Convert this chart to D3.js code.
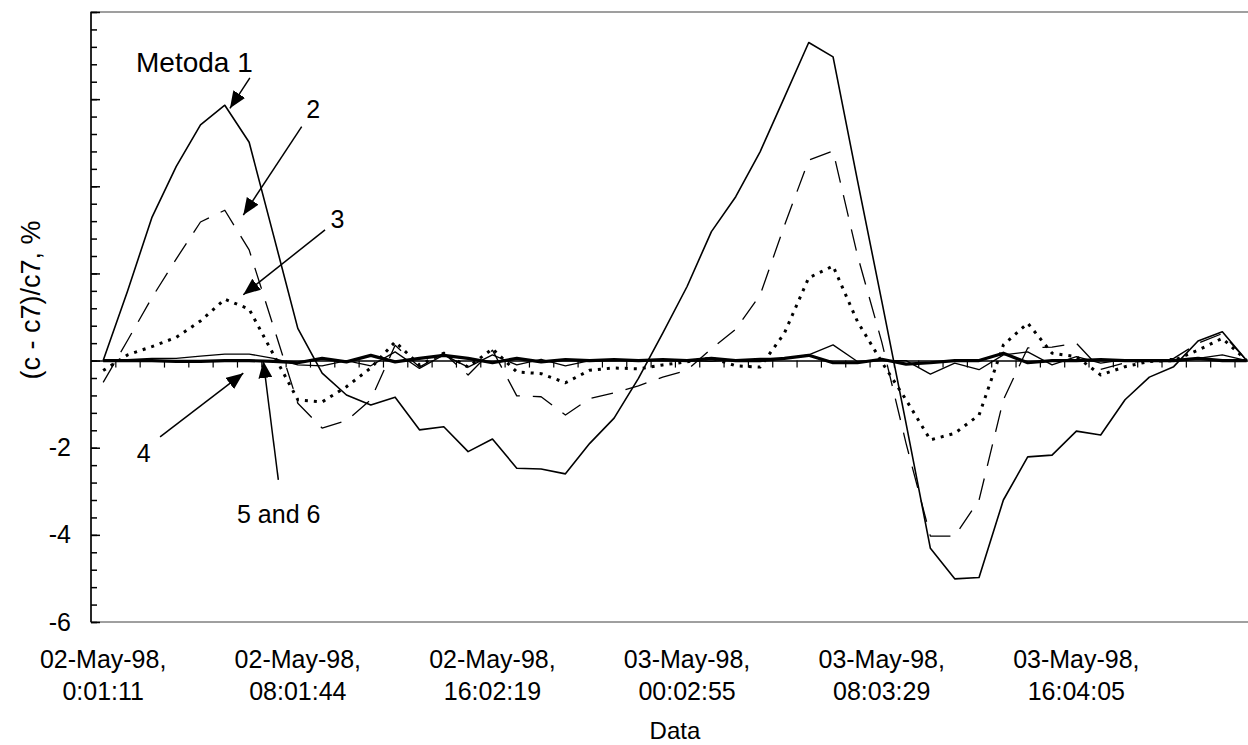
<!DOCTYPE html>
<html>
<head>
<meta charset="utf-8">
<script src="https://cdn.jsdelivr.net/npm/d3@7/dist/d3.min.js"></script>
<style>
  body { margin: 0; background: #fff; }
  text { font-family: "Liberation Sans", Arial, sans-serif; fill: #000; }
</style>
</head>
<body>
<svg id="chart"></svg>
<script>
// hourly samples, 02-May-98 0:01 .. 03-May-98 23:04
var metoda1 = [0, 1.59, 3.28, 4.45, 5.41, 5.86, 5.01, 2.88, 0.74, -0.29, -0.79, -1.02, -0.84, -1.59, -1.52, -2.09,
  -1.80, -2.47, -2.49, -2.60, -1.90, -1.32, -0.41, 0.63, 1.70, 2.96, 3.76, 4.79, 6.04, 7.30, 6.97, 4.14,
  1.37, -1.44, -4.31, -5.01, -4.98, -3.20, -2.21, -2.17, -1.62, -1.71, -0.90, -0.38, -0.14, 0.45, 0.66, 0];
var metoda2 = [-0.50, 0.46, 1.44, 2.33, 3.18, 3.45, 2.54, 0.78, -0.98, -1.55, -1.38, -0.90, 0.35, -0.15, 0.17, -0.33,
  0.24, -0.81, -0.83, -1.25, -0.87, -0.74, -0.58, -0.38, -0.22, 0.27, 0.72, 1.50, 3.10, 4.60, 4.81, 2.42,
  0.43, -1.90, -4.03, -4.03, -3.20, -0.90, 0.29, 0.31, 0.40, -0.20, -0.05, 0.00, 0.05, 0.40, 0.62, 0];
var metoda3 = [-0.23, 0.13, 0.32, 0.53, 0.91, 1.41, 1.18, 0.14, -0.90, -0.95, -0.60, -0.17, 0.43, -0.10, 0.17, -0.15,
  0.27, -0.26, -0.30, -0.51, -0.22, -0.17, -0.19, -0.10, -0.03, 0.06, -0.12, -0.15, 0.63, 1.90, 2.17, 0.90,
  -0.03, -0.90, -1.82, -1.67, -1.25, 0.36, 0.86, 0.17, 0.09, -0.33, -0.14, -0.02, 0.00, 0.24, 0.51, 0];
var metoda4 = [0, 0.02, 0.05, 0.05, 0.10, 0.15, 0.15, 0.05, -0.10, -0.12, 0.00, -0.12, 0.20, -0.18, 0.13, -0.15,
  0.13, -0.10, 0.03, -0.12, 0.00, 0.00, 0.02, 0.00, 0.00, -0.02, 0.02, 0.05, 0.05, 0.13, 0.36, -0.02,
  0.00, 0.00, -0.31, -0.06, -0.21, 0.13, 0.20, -0.10, 0.09, -0.06, 0.02, 0, 0, 0.05, 0.13, 0];
var metoda56 = [0, 0, 0, -0.02, -0.02, 0, 0, -0.02, -0.05, 0.05, -0.03, 0.12, -0.03, 0.05, 0.12, 0.05,
  -0.05, 0.05, -0.03, 0.02, 0, 0.02, 0, 0.02, 0, 0.05, 0, 0, 0.05, 0.12, -0.05, -0.05,
  0.03, -0.08, -0.05, 0, 0, 0.17, -0.05, 0, 0, 0.02, 0, 0, 0, 0.05, 0, 0];

var tickIndex = [0, 8, 16, 24, 32, 40];
var tickLabels = [
  ["02-May-98,", "0:01:11"], ["02-May-98,", "08:01:44"], ["02-May-98,", "16:02:19"],
  ["03-May-98,", "00:02:55"], ["03-May-98,", "08:03:29"], ["03-May-98,", "16:04:05"]
];
var yLabels = [-6, -4, -2];

// annotation text + arrow, in (category index, value) units
var notes = [
  { label: "Metoda 1", tx: 1.35, ty: 6.62, size: 28, from: [6.03, 6.49], to: [5.21, 5.79] },
  { label: "2", tx: 8.35, ty: 5.56, size: 25, from: [8.16, 5.37], to: [5.76, 3.34] },
  { label: "3", tx: 9.34, ty: 3.04, size: 25, from: [9.12, 3.00], to: [5.76, 1.51] },
  { label: "4", tx: 1.38, ty: -2.32, size: 25, from: [2.34, -1.75], to: [5.76, -0.29] },
  { label: "5 and 6", tx: 5.5, ty: -3.73, size: 25, from: [7.2, -2.74], to: [6.58, -0.01] }
];

var width = 1248, height = 745;
var plotLeft = 91, plotTop = 12, plotBottom = 622, catW = 24.33;
var n = metoda1.length;

var svg = d3.select("#chart").attr("width", width).attr("height", height);

var x = d3.scaleLinear().domain([-0.5, n - 0.5]).range([plotLeft, plotLeft + n * catW]);
var y = d3.scaleLinear().domain([-6, 8]).range([plotBottom, plotTop]);

svg.append("defs").append("marker")
    .attr("id", "head")
    .attr("markerUnits", "userSpaceOnUse")
    .attr("viewBox", "0 0 17 14")
    .attr("refX", 17).attr("refY", 7)
    .attr("markerWidth", 17).attr("markerHeight", 14)
    .attr("orient", "auto")
  .append("path")
    .attr("d", "M0,0L17,7L0,14Z")
    .attr("fill", "#000");

// plot frame
svg.append("rect")
    .attr("x", x(-0.5)).attr("y", y(8))
    .attr("width", x(n - 0.5) - x(-0.5)).attr("height", y(-6) - y(8))
    .attr("fill", "none").attr("stroke", "#808080").attr("stroke-width", 1.5);

// y axis: minor + major inside ticks
var minor = d3.range(0, 36).map(function(i) { return -6 + i * 0.4; });
var major = d3.range(-6, 9, 2);

var yMinor = svg.append("g").attr("transform", "translate(" + plotLeft + ",0)")
    .call(d3.axisRight(y).tickValues(minor).tickSize(6).tickFormat(""));
var yMajor = svg.append("g").attr("transform", "translate(" + plotLeft + ",0)")
    .call(d3.axisRight(y).tickValues(major).tickSize(9).tickFormat(""));
[yMinor, yMajor].forEach(function(g) {
  g.select(".domain").remove();
  g.selectAll("line").attr("stroke", "#000").attr("stroke-width", 1.5);
});
svg.append("line")
    .attr("x1", plotLeft).attr("x2", plotLeft).attr("y1", y(8)).attr("y2", y(-6))
    .attr("stroke", "#000").attr("stroke-width", 1.5);

var yLab = svg.append("g").attr("transform", "translate(" + plotLeft + ",0)")
    .call(d3.axisLeft(y).tickValues(yLabels).tickSize(0).tickPadding(20)
      .tickFormat(function(d) { return String(d); }));
yLab.select(".domain").remove();
yLab.selectAll("text").style("font-size", "25px").attr("font-family", null);

// x axis on the zero line
var bounds = d3.range(0, n - 1).map(function(i) { return i + 0.5; });
var xAx = svg.append("g").attr("transform", "translate(0," + y(0) + ")")
    .call(d3.axisBottom(x).tickValues(bounds).tickSize(7).tickSizeOuter(0).tickFormat(""));
xAx.select(".domain").attr("stroke", "#000").attr("stroke-width", 1.5);
xAx.selectAll("line").attr("stroke", "#000").attr("stroke-width", 1.2);

var xLab = svg.append("g").selectAll("text")
    .data(tickIndex)
    .enter().append("text")
    .attr("text-anchor", "middle")
    .style("font-size", "25px");
xLab.append("tspan")
    .attr("x", function(d) { return x(d); }).attr("y", 668)
    .text(function(d, i) { return tickLabels[i][0]; });
xLab.append("tspan")
    .attr("x", function(d) { return x(d); }).attr("y", 700)
    .text(function(d, i) { return tickLabels[i][1]; });

svg.append("text")
    .attr("x", (x(-0.5) + x(n - 0.5)) / 2).attr("y", 739)
    .attr("text-anchor", "middle")
    .style("font-size", "24px")
    .text("Data");

svg.append("text")
    .attr("transform", "translate(40,300) rotate(-90)")
    .attr("text-anchor", "middle")
    .style("font-size", "27px")
    .text("(c - c7)/c7, %");

// series
var line = d3.line()
    .x(function(d, i) { return x(i); })
    .y(function(d) { return y(d); });

var series = [
  { values: metoda4, width: 1.3, dash: null },
  { values: metoda56, width: 3.2, dash: null },
  { values: metoda3, width: 3, dash: "3,6" },
  { values: metoda2, width: 1.3, dash: "22,13" },
  { values: metoda1, width: 1.6, dash: null }
];

svg.selectAll(".series")
    .data(series)
    .enter().append("path")
    .attr("class", "series")
    .attr("fill", "none")
    .attr("stroke", "#000")
    .attr("stroke-linejoin", "round")
    .attr("stroke-width", function(d) { return d.width; })
    .attr("stroke-dasharray", function(d) { return d.dash; })
    .attr("d", function(d) { return line(d.values); });

// annotations
var note = svg.selectAll(".note").data(notes).enter().append("g").attr("class", "note");
note.append("line")
    .attr("x1", function(d) { return x(d.from[0]); })
    .attr("y1", function(d) { return y(d.from[1]); })
    .attr("x2", function(d) { return x(d.to[0]); })
    .attr("y2", function(d) { return y(d.to[1]); })
    .attr("stroke", "#000").attr("stroke-width", 1.5)
    .attr("marker-end", "url(#head)");
note.append("text")
    .attr("x", function(d) { return x(d.tx); })
    .attr("y", function(d) { return y(d.ty); })
    .style("font-size", function(d) { return d.size + "px"; })
    .text(function(d) { return d.label; });
</script>
</body>
</html>
